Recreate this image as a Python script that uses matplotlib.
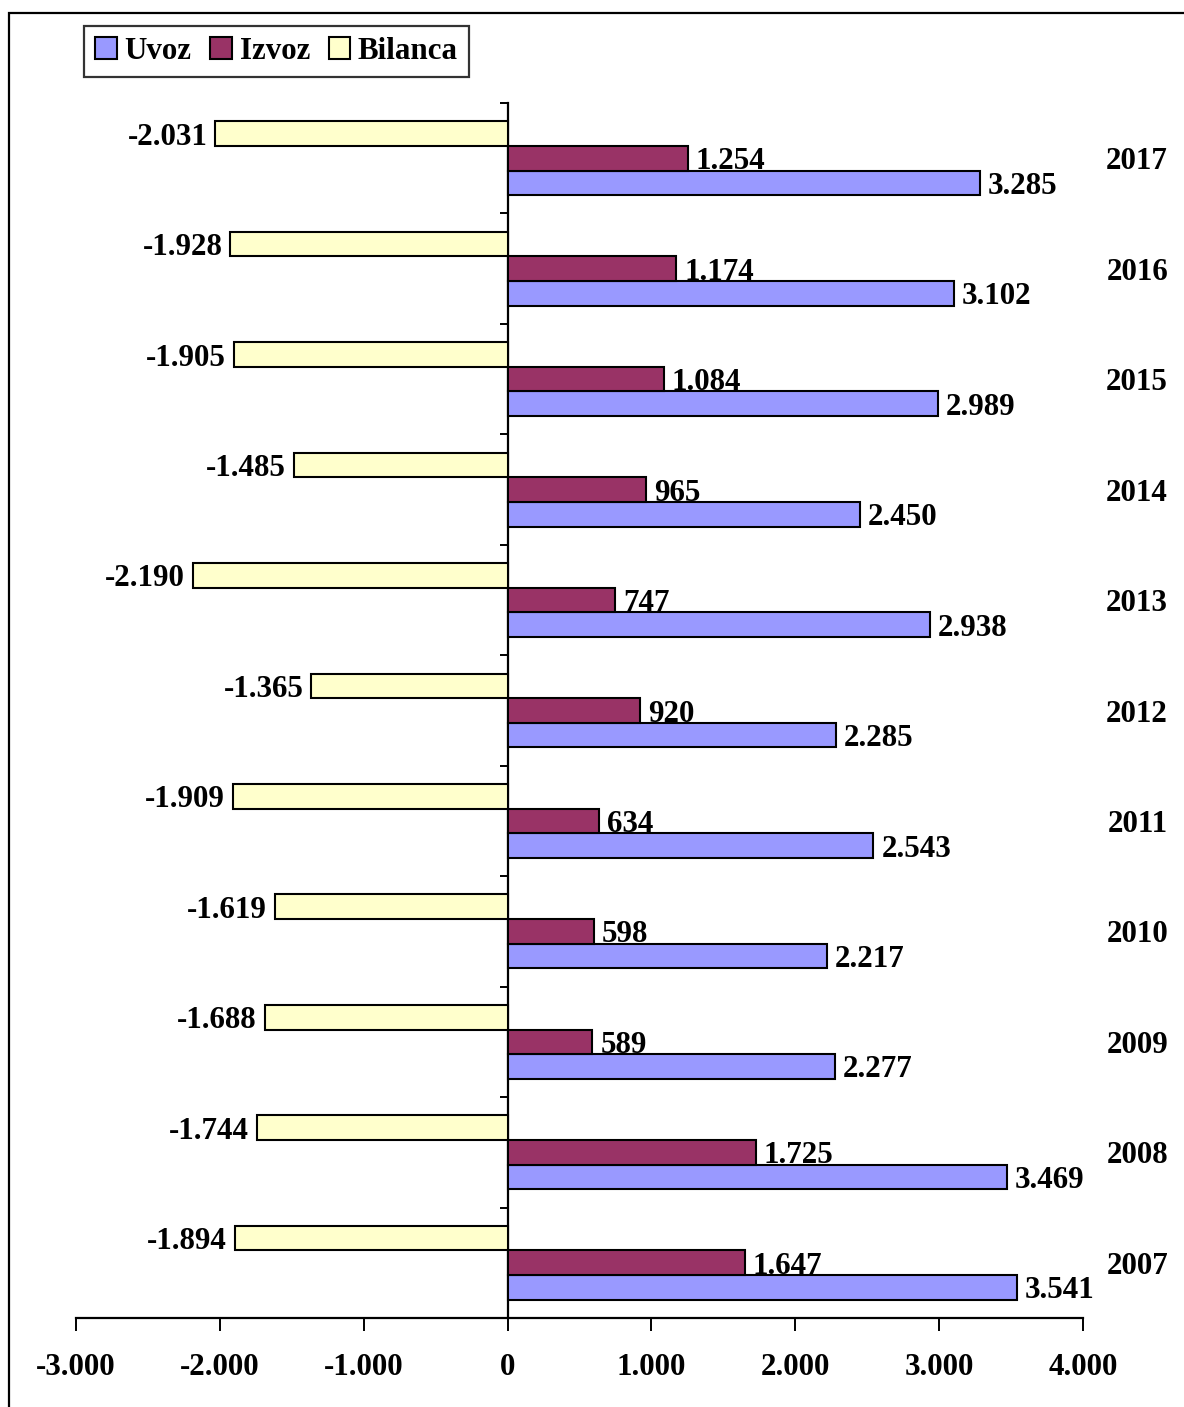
import matplotlib
matplotlib.use("Agg")
import matplotlib.pyplot as plt
import matplotlib.transforms as mtransforms
import numpy as np
from matplotlib.patches import Rectangle, Patch

years = [2007, 2008, 2009, 2010, 2011, 2012, 2013, 2014, 2015, 2016, 2017]
uvoz = [3541, 3469, 2277, 2217, 2543, 2285, 2938, 2450, 2989, 3102, 3285]
izvoz = [1647, 1725, 589, 598, 634, 920, 747, 965, 1084, 1174, 1254]
bilanca = [-1894, -1744, -1688, -1619, -1909, -1365, -2190, -1485, -1905, -1928, -2031]
series_names = ["Uvoz", "Izvoz", "Bilanca"]
x_ticks = [-3000, -2000, -1000, 0, 1000, 2000, 3000, 4000]

colors = {"Uvoz": "#9999FF", "Izvoz": "#993366", "Bilanca": "#FFFFCC"}

plt.rcParams['font.family'] = ['Liberation Serif', 'DejaVu Serif']
plt.rcParams['font.weight'] = 'bold'
FS = 22.3

def fmt(v):
    return f"{v:,}".replace(",", ".")

fig = plt.figure(figsize=(11.84, 14.07), dpi=100)
# figure border (cut off on right and bottom)
fig.patches.append(Rectangle((9/1184, -0.01), 1.2, 1 - 13/1407 + 0.01, transform=fig.transFigure,
                             fill=False, edgecolor='black', linewidth=1.6, zorder=0))

ax = fig.add_axes([76/1184, 1 - 1318/1407, (1083 - 76)/1184, (1318 - 103)/1407])

y = np.arange(len(years))
h = 0.223
offsets = {"Bilanca": h, "Izvoz": 0.0, "Uvoz": -h}
data = {"Uvoz": uvoz, "Izvoz": izvoz, "Bilanca": bilanca}

for name in series_names:
    ax.barh(y + offsets[name], data[name], height=h, color=colors[name],
            edgecolor='black', linewidth=1.5, label=name, zorder=3)

year_tr = mtransforms.blended_transform_factory(fig.transFigure, ax.transData)
pad = 55
for i in range(len(years)):
    ax.text(uvoz[i] + pad, y[i] + offsets["Uvoz"], fmt(uvoz[i]), ha='left', va='center_baseline',
            fontsize=FS, fontweight='bold')
    ax.text(izvoz[i] + pad, y[i] + offsets["Izvoz"], fmt(izvoz[i]), ha='left', va='center_baseline',
            fontsize=FS, fontweight='bold')
    ax.text(bilanca[i] - pad, y[i] + offsets["Bilanca"], fmt(bilanca[i]), ha='right', va='center_baseline',
            fontsize=FS, fontweight='bold')
    ax.text(1168/1184, y[i], str(years[i]), transform=year_tr,
            ha='right', va='center_baseline', fontsize=FS, fontweight='bold')

ax.set_xlim(-3000, 4000)
ax.set_ylim(-0.5, len(years) - 0.5)

ax.spines['top'].set_visible(False)
ax.spines['right'].set_visible(False)
ax.spines['left'].set_position(('data', 0))
ax.spines['left'].set_linewidth(1.6)
ax.spines['bottom'].set_linewidth(1.6)

ax.set_yticks(np.arange(-0.5, len(years), 1.0))
ax.set_yticklabels([])
ax.tick_params(axis='y', direction='out', length=6, width=1.4)
ax.set_xticks(x_ticks)
ax.set_xticklabels([fmt(v) for v in x_ticks], fontsize=FS, fontweight='bold')
ax.tick_params(axis='x', direction='out', length=9, width=1.4, pad=16)

ax.set_facecolor('none')

handles = [Patch(facecolor=colors[n], edgecolor='black', linewidth=1.5) for n in series_names]
leg = fig.legend(handles, series_names, loc='upper left',
                 bbox_to_anchor=(84/1184, 1 - 26/1407), ncol=3, fontsize=FS,
                 frameon=True, fancybox=False, handlelength=0.7, handleheight=0.7,
                 handletextpad=0.25, columnspacing=0.6, borderpad=0.36, borderaxespad=0)
leg.get_frame().set_edgecolor('black')
leg.get_frame().set_linewidth(1.6)
for t in leg.get_texts():
    t.set_fontweight('bold')

fig.savefig("out.png", dpi=100)
